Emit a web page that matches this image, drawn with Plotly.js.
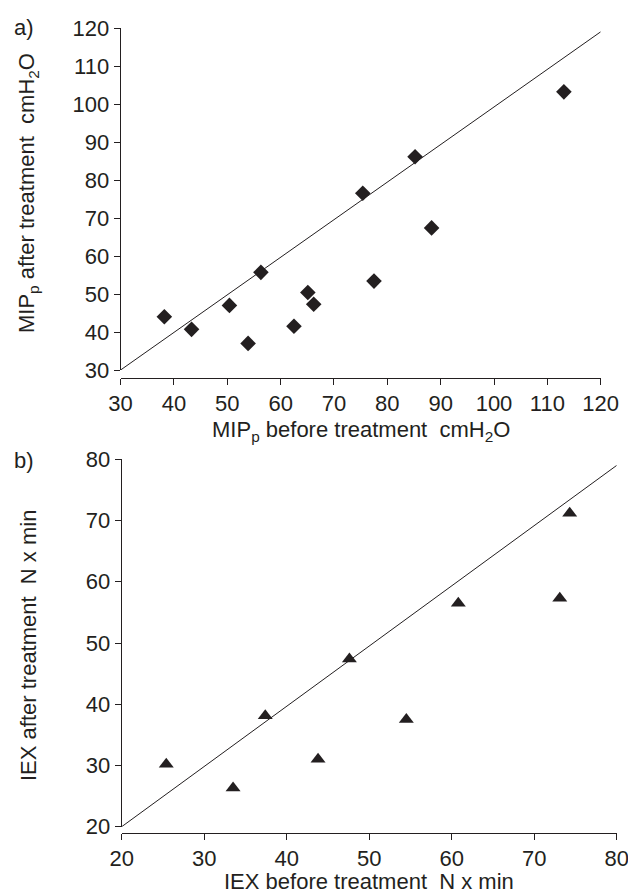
<!DOCTYPE html>
<html><head><meta charset="utf-8">
<script src="https://cdn.plot.ly/plotly-3.0.1.min.js"></script>
<style>html,body{margin:0;padding:0;background:#fff}#chart{width:628px;height:895px}</style>
</head><body><div id="chart"></div>
<script>
// a) MIPp before / after treatment (cmH2O)
const mipBefore = [38.2, 43.3, 50.4, 53.9, 56.3, 62.5, 65.1, 66.2, 75.4, 77.5, 85.2, 88.3, 113.1];
const mipAfter  = [44.0, 40.7, 47.0, 37.0, 55.7, 41.5, 50.4, 47.3, 76.5, 53.4, 86.1, 67.4, 103.2];
const mipLineX  = [30, 120];
const mipLineY  = [30, 119];
const mipTicks  = [30, 40, 50, 60, 70, 80, 90, 100, 110, 120];

// b) IEX before / after treatment (N x min)
const iexBefore = [25.4, 33.5, 37.4, 43.8, 47.6, 54.5, 60.8, 73.1, 74.3];
const iexAfter  = [30.2, 26.3, 38.1, 31.0, 47.4, 37.5, 56.5, 57.3, 71.2];
const iexLineX  = [20, 80];
const iexLineY  = [20, 79];
const iexTicks  = [20, 30, 40, 50, 60, 70, 80];

const W = 628, H = 895;
function hasFont(name){
  const c = document.createElement('canvas').getContext('2d');
  const s = '0123456789 abcdefghijklmnopqrstuvwxyz MIPEX';
  c.font = '40px monospace'; const a = c.measureText(s).width;
  c.font = '40px "' + name + '", monospace'; const b = c.measureText(s).width;
  return Math.abs(a - b) > 0.5;
}
const narrow = hasFont('Liberation Sans Narrow');
const FAM = narrow ? '"Liberation Sans Narrow", "Liberation Sans", Arial, sans-serif' : '"Liberation Sans", Arial, sans-serif';
const FS = narrow ? 26 : 22;
const INK = '#231f20';
const px = v => v / W;
const py = v => 1 - v / H;

const axisBase = {
  showgrid: false, zeroline: false, showline: true, linecolor: INK, linewidth: 1,
  ticks: 'outside', ticklen: 6, tickwidth: 1, tickcolor: INK,
  tickfont: {family: FAM, size: FS, color: INK}, tickmode: 'array', fixedrange: true,
  ticklabeloverflow: 'allow'
};

const traces = [
  {x: mipLineX, y: mipLineY, xaxis: 'x', yaxis: 'y', mode: 'lines', line: {color: INK, width: 1}, cliponaxis: false, hoverinfo: 'skip'},
  {x: mipBefore, y: mipAfter, xaxis: 'x', yaxis: 'y', mode: 'markers', marker: {symbol: 'diamond', size: 12, color: INK}, cliponaxis: false},
  {x: iexLineX, y: iexLineY, xaxis: 'x2', yaxis: 'y2', mode: 'lines', line: {color: INK, width: 1}, cliponaxis: false, hoverinfo: 'skip'},
  {x: iexBefore, y: iexAfter, xaxis: 'x2', yaxis: 'y2', mode: 'markers', marker: {symbol: 'triangle-up', size: 13, color: INK}, cliponaxis: false}
];

const tf = {family: FAM, size: FS, color: INK};
const layout = {
  width: W, height: H, margin: {l: 0, r: 0, t: 0, b: 0},
  paper_bgcolor: '#fff', plot_bgcolor: '#fff', showlegend: false,
  font: {family: FAM, color: INK},
  xaxis: Object.assign({}, axisBase, {domain: [px(120.6), px(600.7)], range: [30, 120], tickvals: mipTicks, anchor: 'free', position: py(378)}),
  yaxis: Object.assign({}, axisBase, {domain: [py(370), py(28)], range: [30, 120], tickvals: mipTicks, anchor: 'x'}),
  xaxis2: Object.assign({}, axisBase, {domain: [px(121.7), px(616.7)], range: [20, 80], tickvals: iexTicks, anchor: 'free', position: py(833)}),
  yaxis2: Object.assign({}, axisBase, {domain: [py(826.7), py(459.3)], range: [20, 80], tickvals: iexTicks, anchor: 'x2'}),
  annotations: [
    {text: 'a)', x: px(24), y: py(28), xref: 'paper', yref: 'paper', showarrow: false, xanchor: 'center', yanchor: 'middle', font: tf},
    {text: 'b)', x: px(24), y: py(460), xref: 'paper', yref: 'paper', showarrow: false, xanchor: 'center', yanchor: 'middle', font: tf},
    {text: 'MIP<sub>p</sub> after treatment\u00A0\u00A0cmH<sub>2</sub>O', x: px(28), y: py(193), xref: 'paper', yref: 'paper', showarrow: false, textangle: -90, xanchor: 'center', yanchor: 'middle', font: tf},
    {text: 'MIP<sub>p</sub> before treatment\u00A0\u00A0cmH<sub>2</sub>O', x: px(360.6), y: py(431), xref: 'paper', yref: 'paper', showarrow: false, xanchor: 'center', yanchor: 'middle', font: tf},
    {text: 'IEX after treatment\u00A0\u00A0N x min', x: px(28), y: py(646), xref: 'paper', yref: 'paper', showarrow: false, textangle: -90, xanchor: 'center', yanchor: 'middle', font: tf},
    {text: 'IEX before treatment\u00A0\u00A0N x min', x: px(369), y: py(881), xref: 'paper', yref: 'paper', showarrow: false, xanchor: 'center', yanchor: 'middle', font: tf}
  ]
};
Plotly.newPlot('chart', traces, layout, {staticPlot: true, displayModeBar: false});
</script>
</body></html>
